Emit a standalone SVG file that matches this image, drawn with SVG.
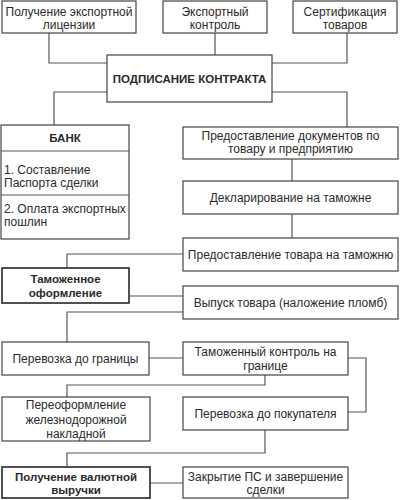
<svg xmlns="http://www.w3.org/2000/svg" width="400" height="500" viewBox="0 0 400 500">
<style>
.box{fill:#fff;stroke:#444;stroke-width:1.2}
.bold{stroke:#333;stroke-width:1.7}
.con{fill:none;stroke:#555;stroke-width:1.2}
text{font-family:"Liberation Sans",Arial,sans-serif;font-size:12px;fill:#2a2a2a;text-anchor:middle}
.b{font-weight:bold;font-size:11.5px}
.l{text-anchor:start}
</style>
<rect width="400" height="500" fill="#fff"/>
<g id="connectors">
<path class="con" d="M49 33V63H107"/>
<path class="con" d="M215 33V55"/>
<path class="con" d="M347 33V63H272"/>
<path class="con" d="M107 92H54V125"/>
<path class="con" d="M272 92H347V127"/>
<path class="con" d="M292 159V181"/>
<path class="con" d="M292 214V238"/>
<path class="con" d="M183 254H67V268"/>
<path class="con" d="M129 296H183"/>
<path class="con" d="M183 312H67V342"/>
<path class="con" d="M149 358H183"/>
<path class="con" d="M348 358H366V412H348"/>
<path class="con" d="M265 375V385H67V397"/>
<path class="con" d="M265 430V453H67V467"/>
<path class="con" d="M150 483H183"/>
</g>
<g id="n1"><rect class="box" x="2" y="1" width="134" height="32"/><text x="69" y="16">Получение экспортной</text><text x="69" y="29">лицензии</text></g>
<g id="n2"><rect class="box" x="163" y="1" width="104" height="32"/><text x="215" y="16">Экспортный</text><text x="215" y="29">контроль</text></g>
<g id="n3"><rect class="box" x="293" y="1" width="104" height="32"/><text x="345" y="16">Сертификация</text><text x="345" y="29">товаров</text></g>
<g id="contract"><rect class="box" x="107" y="55" width="165" height="47"/><text class="b" x="189.5" y="82.5">ПОДПИСАНИЕ КОНТРАКТА</text></g>
<g id="bank"><rect class="box" x="1" y="125" width="128" height="114"/><line class="con" x1="1" y1="151" x2="129" y2="151"/><line class="con" x1="1" y1="195" x2="129" y2="195"/><text class="b" x="65" y="142">БАНК</text><text class="l" x="4" y="174">1. Составление</text><text class="l" x="4" y="187">Паспорта сделки</text><text class="l" x="4" y="213">2. Оплата экспортных</text><text class="l" x="4" y="226">пошлин</text></g>
<g id="docs"><rect class="box" x="183" y="127" width="215" height="32"/><text x="290.5" y="140">Предоставление документов по</text><text x="290.5" y="153">товару и предприятию</text></g>
<g id="decl"><rect class="box" x="183" y="181" width="215" height="33"/><text x="290.5" y="202">Декларирование на таможне</text></g>
<g id="goods"><rect class="box" x="183" y="238" width="215" height="33"/><text x="290.5" y="259">Предоставление товара на таможню</text></g>
<g id="customs"><rect class="box bold" x="2" y="268" width="127" height="35"/><text class="b" x="65.5" y="283">Таможенное</text><text class="b" x="65.5" y="297">оформление</text></g>
<g id="release"><rect class="box" x="183" y="286" width="215" height="33"/><text x="290.5" y="307">Выпуск товара (наложение пломб)</text></g>
<g id="transport1"><rect class="box" x="2" y="342" width="147" height="33"/><text x="75.5" y="363">Перевозка до границы</text></g>
<g id="border"><rect class="box" x="183" y="342" width="165" height="33"/><text x="265.5" y="356">Таможенный контроль на</text><text x="265.5" y="370">границе</text></g>
<g id="waybill"><rect class="box" x="2" y="397" width="148" height="44"/><text x="76" y="409">Переоформление</text><text x="76" y="423.5">железнодорожной</text><text x="76" y="438">накладной</text></g>
<g id="transport2"><rect class="box" x="183" y="397" width="165" height="33"/><text x="265.5" y="418">Перевозка до покупателя</text></g>
<g id="revenue"><rect class="box bold" x="2" y="467" width="148" height="31"/><text class="b" x="76" y="481">Получение валютной</text><text class="b" x="76" y="494">выручки</text></g>
<g id="close"><rect class="box" x="183" y="467" width="165" height="31"/><text x="265.5" y="481">Закрытие ПС и завершение</text><text x="265.5" y="494">сделки</text></g>
</svg>
